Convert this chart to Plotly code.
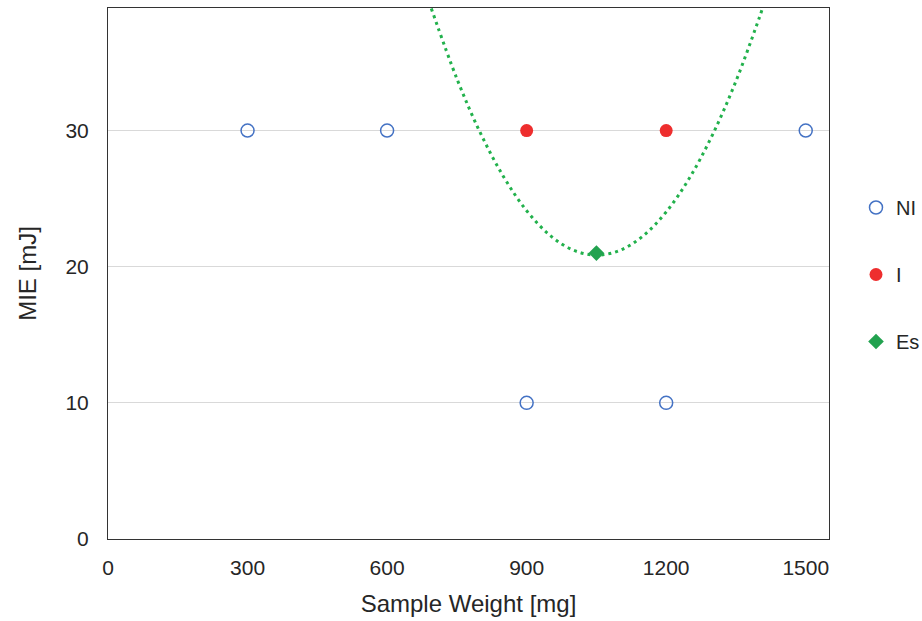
import plotly.graph_objects as go

# Data
ni_x = [300, 600, 1500, 900, 1200]
ni_y = [30, 30, 30, 10, 10]
i_x = [900, 1200]
i_y = [30, 30]
es_x = [1050]
es_y = [21]
# Dotted trend curve
trend_x = [695, 750, 800, 850, 900, 950, 1000, 1050, 1100, 1150, 1200, 1250, 1300, 1350, 1400, 1407]
trend_y = [38.97, 33.81, 29.86, 26.63, 24.11, 22.31, 21.22, 20.85, 21.19, 22.25, 24.02, 26.51, 29.72, 33.63, 38.27, 38.97]

x_ticks = [0, 300, 600, 900, 1200, 1500]
y_ticks = [0, 10, 20, 30]

FONT = "Liberation Sans, Arial, sans-serif"
TXT = "#262626"

fig = go.Figure()
fig.add_trace(go.Scatter(
    x=trend_x, y=trend_y, mode="lines", showlegend=False, hoverinfo="skip",
    line=dict(color="#22B14C", width=3, dash="3px,4px", shape="spline"),
))
fig.add_trace(go.Scatter(
    x=ni_x, y=ni_y, mode="markers", name="NI", legendgroup="a",
    marker=dict(symbol="circle-open", size=13, color="#4472C4", line=dict(width=1.5, color="#4472C4")),
))
fig.add_trace(go.Scatter(
    x=i_x, y=i_y, mode="markers", name="I", legendgroup="b",
    marker=dict(symbol="circle", size=13, color="#EE2E2E"),
))
fig.add_trace(go.Scatter(
    x=es_x, y=es_y, mode="markers", name="Es", legendgroup="c",
    marker=dict(symbol="diamond", size=12, color="#22A24F"),
))

fig.update_layout(
    width=922, height=621,
    margin=dict(l=108, r=93, t=8, b=82),
    paper_bgcolor="white", plot_bgcolor="white",
    font=dict(family=FONT, size=21, color=TXT),
    legend=dict(
        x=856 / 922, xref="container", xanchor="left",
        y=1 - 188 / 621, yref="container", yanchor="top",
        font=dict(size=20, color=TXT), tracegroupgap=38,
        itemwidth=30, bgcolor="rgba(0,0,0,0)",
        traceorder="grouped",
    ),
    xaxis=dict(
        range=[0, 1550], tickvals=x_ticks, showgrid=False, zeroline=False,
        showline=True, linecolor="#333333", linewidth=1, mirror=True,
        ticks="", ticklabelstandoff=10,
        title=dict(text="Sample Weight [mg]", font=dict(size=24), standoff=16),
        tickfont=dict(size=21),
    ),
    yaxis=dict(
        range=[0, 39], tickvals=y_ticks, showgrid=True, gridcolor="#D9D9D9", gridwidth=1,
        zeroline=False, showline=True, linecolor="#333333", linewidth=1, mirror=True,
        ticks="", ticklabelstandoff=14,
        title=dict(text="MIE [mJ]", font=dict(size=24), standoff=22),
        tickfont=dict(size=21),
    ),
)

fig.write_html("out.html")
